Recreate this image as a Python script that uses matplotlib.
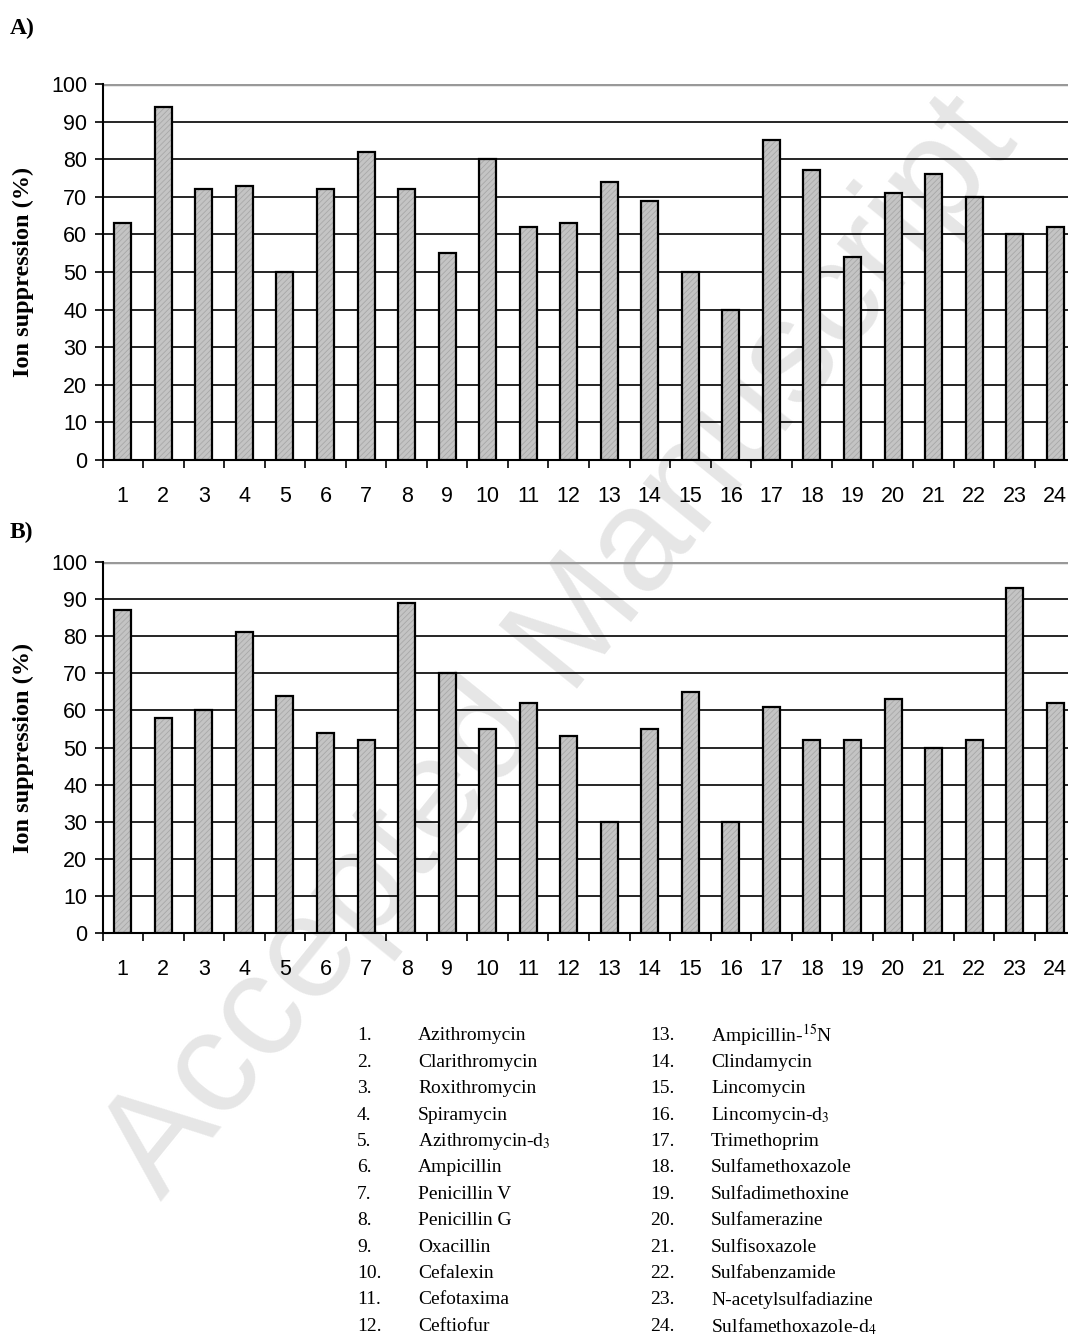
import matplotlib.pyplot as plt
import numpy as np

plt.rcParams['mathtext.fontset'] = 'stix'
plt.rcParams['hatch.linewidth'] = 0.6

positions = list(range(1, 25))
suppression_a = [63, 94, 72, 73, 50, 72, 82, 72, 55, 80, 62, 63,
                 74, 69, 50, 40, 85, 77, 54, 71, 76, 70, 60, 62]
suppression_b = [87, 58, 60, 81, 64, 54, 52, 89, 70, 55, 62, 53,
                 30, 55, 65, 30, 61, 52, 52, 63, 50, 52, 93, 62]
compounds = ['Azithromycin', 'Clarithromycin', 'Roxithromycin', 'Spiramycin',
             'Azithromycin-d$_3$', 'Ampicillin', 'Penicillin V', 'Penicillin G',
             'Oxacillin', 'Cefalexin', 'Cefotaxima', 'Ceftiofur',
             'Ampicillin-$^{15}$N', 'Clindamycin', 'Lincomycin', 'Lincomycin-d$_3$',
             'Trimethoprim', 'Sulfamethoxazole', 'Sulfadimethoxine', 'Sulfamerazine',
             'Sulfisoxazole', 'Sulfabenzamide', 'N-acetylsulfadiazine',
             'Sulfamethoxazole-d$_4$']

W, H = 1068, 1336
fig = plt.figure(figsize=(W / 100, H / 100), dpi=100)

# watermark behind everything
fig.text(0.525, 0.515, 'Accepted Manuscript', rotation=51, fontsize=105,
         color='#e6e6e6', ha='center', va='center', family='Liberation Sans',
         zorder=-10)


def panel(top, bottom, values, tag, tag_y):
    left = 102.5
    right = 1075.5
    ax = fig.add_axes([left / W, 1 - bottom / H, (right - left) / W, (bottom - top) / H])
    ax.patch.set_alpha(0)
    x = np.array(positions)
    ax.bar(x, values, width=0.42, color='#c4c4c4', hatch='//////',
           edgecolor='#a8a8a8', linewidth=0, zorder=3)
    ax.bar(x, values, width=0.42, fill=False, edgecolor='black',
           linewidth=1.6, zorder=4)
    ax.set_xlim(0.5, 24.5)
    ax.set_ylim(0, 100)
    ax.set_yticks(range(0, 101, 10))
    for v in range(10, 100, 10):
        ax.axhline(v, color='black', linewidth=1.2, zorder=1)
    ax.axhline(100, color='#999999', linewidth=2.5, zorder=1)
    ax.set_xticks(x)
    ax.set_xticklabels([str(p) for p in positions], family='Liberation Sans', fontsize=15.5)
    ax.set_xticks(np.arange(0.5, 25, 1), minor=True)
    ax.tick_params(axis='x', which='major', length=0, pad=19)
    ax.tick_params(axis='x', which='minor', length=6, width=1.2, direction='out')
    ax.tick_params(axis='y', length=6, width=1.2, direction='out', pad=5)
    for lab in ax.get_yticklabels():
        lab.set_family('Liberation Sans')
        lab.set_fontsize(15.5)
    for s in ['top', 'right']:
        ax.spines[s].set_visible(False)
    ax.spines['left'].set_linewidth(1.5)
    ax.spines['bottom'].set_linewidth(1.5)
    ax.set_ylabel('Ion suppression (%)', family='Liberation Serif', fontweight='bold',
                  fontsize=17.5)
    ax.yaxis.set_label_coords((34 - left) / (right - left), 0.5)
    fig.text(10 / W, 1 - tag_y / H, tag, family='Liberation Serif', fontweight='bold',
             fontsize=17, va='center', ha='left')
    return ax


panel(84, 460, suppression_a, 'A)', 28)
panel(562, 933, suppression_b, 'B)', 532)

# compound key
row_y0, row_step = 1036, 26.4
for i, name in enumerate(compounds):
    col = i // 12
    row = i % 12
    y = 1 - (row_y0 + row * row_step) / H
    xn = 357 if col == 0 else 650
    xt = 418 if col == 0 else 711
    fig.text(xn / W, y, f'{i + 1}.', family='Liberation Serif', fontsize=14,
             va='center', ha='left')
    fig.text(xt / W, y, name, family='Liberation Serif', fontsize=14,
             va='center', ha='left')

fig.savefig('out.png', dpi=100)
